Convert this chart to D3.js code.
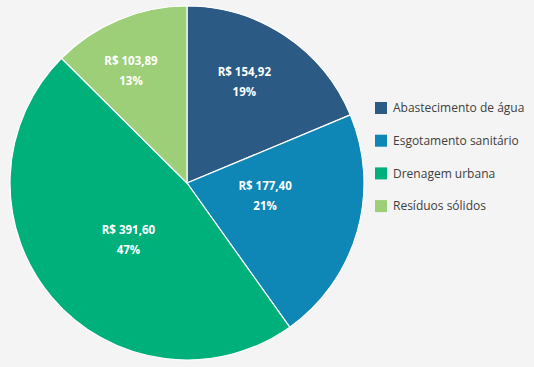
<!DOCTYPE html>
<html><head><meta charset="utf-8">
<script src="https://cdn.jsdelivr.net/npm/d3@7"></script>
<style>html,body{margin:0;padding:0;background:#f4f4f4;}svg{display:block;}</style>
</head><body>
<svg id="c" width="534" height="367"></svg>
<script>
const categories = ["Abastecimento de água", "Esgotamento sanitário", "Drenagem urbana", "Resíduos sólidos"];
const values = [154.92, 177.40, 391.60, 103.89];
const valueLabels = ["R$ 154,92", "R$ 177,40", "R$ 391,60", "R$ 103,89"];
const percentLabels = ["19%", "21%", "47%", "13%"];
const colors = ["#2b5a84", "#0e86b6", "#00b07b", "#9dcf78"];

const W = 534, H = 367;
const cx = 187, cy = 183, R = 177;
// label placement (radius fraction, angle shift in degrees) — layout only
const labelLayout = [[0.656, -4.1], [0.447, -6.7], [0.462, -3.9], [0.709, -3.9]];

const svg = d3.select("#c");
svg.append("rect").attr("width", W).attr("height", H).attr("fill", "#f4f4f4");

const pie = d3.pie().sort(null).value(d => d)(values);
const arc = d3.arc().innerRadius(0).outerRadius(R);
const g = svg.append("g").attr("transform", `translate(${cx},${cy})`);

g.selectAll("path").data(pie).join("path")
  .attr("d", arc)
  .attr("fill", (d, i) => colors[i])
  .attr("stroke", "#ffffff")
  .attr("stroke-width", 1.2);

const lbl = g.selectAll("g.lbl").data(pie).join("g").attr("class", "lbl")
  .attr("transform", (d, i) => {
    const a = (d.startAngle + d.endAngle) / 2 + labelLayout[i][1] * Math.PI / 180;
    const r = R * labelLayout[i][0];
    return `translate(${r * Math.sin(a)},${-r * Math.cos(a)})`;
  });
lbl.append("text").attr("y", -10).attr("dy", "0.35em")
  .attr("text-anchor", "middle").attr("fill", "#fff")
  .attr("font-family", "'Open Sans', sans-serif").attr("font-weight", "bold").attr("font-size", "11.5px")
  .text((d, i) => valueLabels[i]);
lbl.append("text").attr("y", 10).attr("dy", "0.35em")
  .attr("text-anchor", "middle").attr("fill", "#fff")
  .attr("font-family", "'Open Sans', sans-serif").attr("font-weight", "bold").attr("font-size", "11.5px")
  .text((d, i) => percentLabels[i]);

const leg = svg.append("g").attr("transform", "translate(375,108)");
const rows = leg.selectAll("g").data(categories).join("g")
  .attr("transform", (d, i) => `translate(0,${i * 32.7})`);
rows.append("rect").attr("x", 0).attr("y", -6).attr("width", 12).attr("height", 12)
  .attr("fill", (d, i) => colors[i]);
rows.append("text").attr("x", 18).attr("dy", "0.35em")
  .attr("fill", "#404040").attr("font-family", "'Open Sans', sans-serif").attr("font-size", "12px")
  .text(d => d);
</script>
</body></html>
